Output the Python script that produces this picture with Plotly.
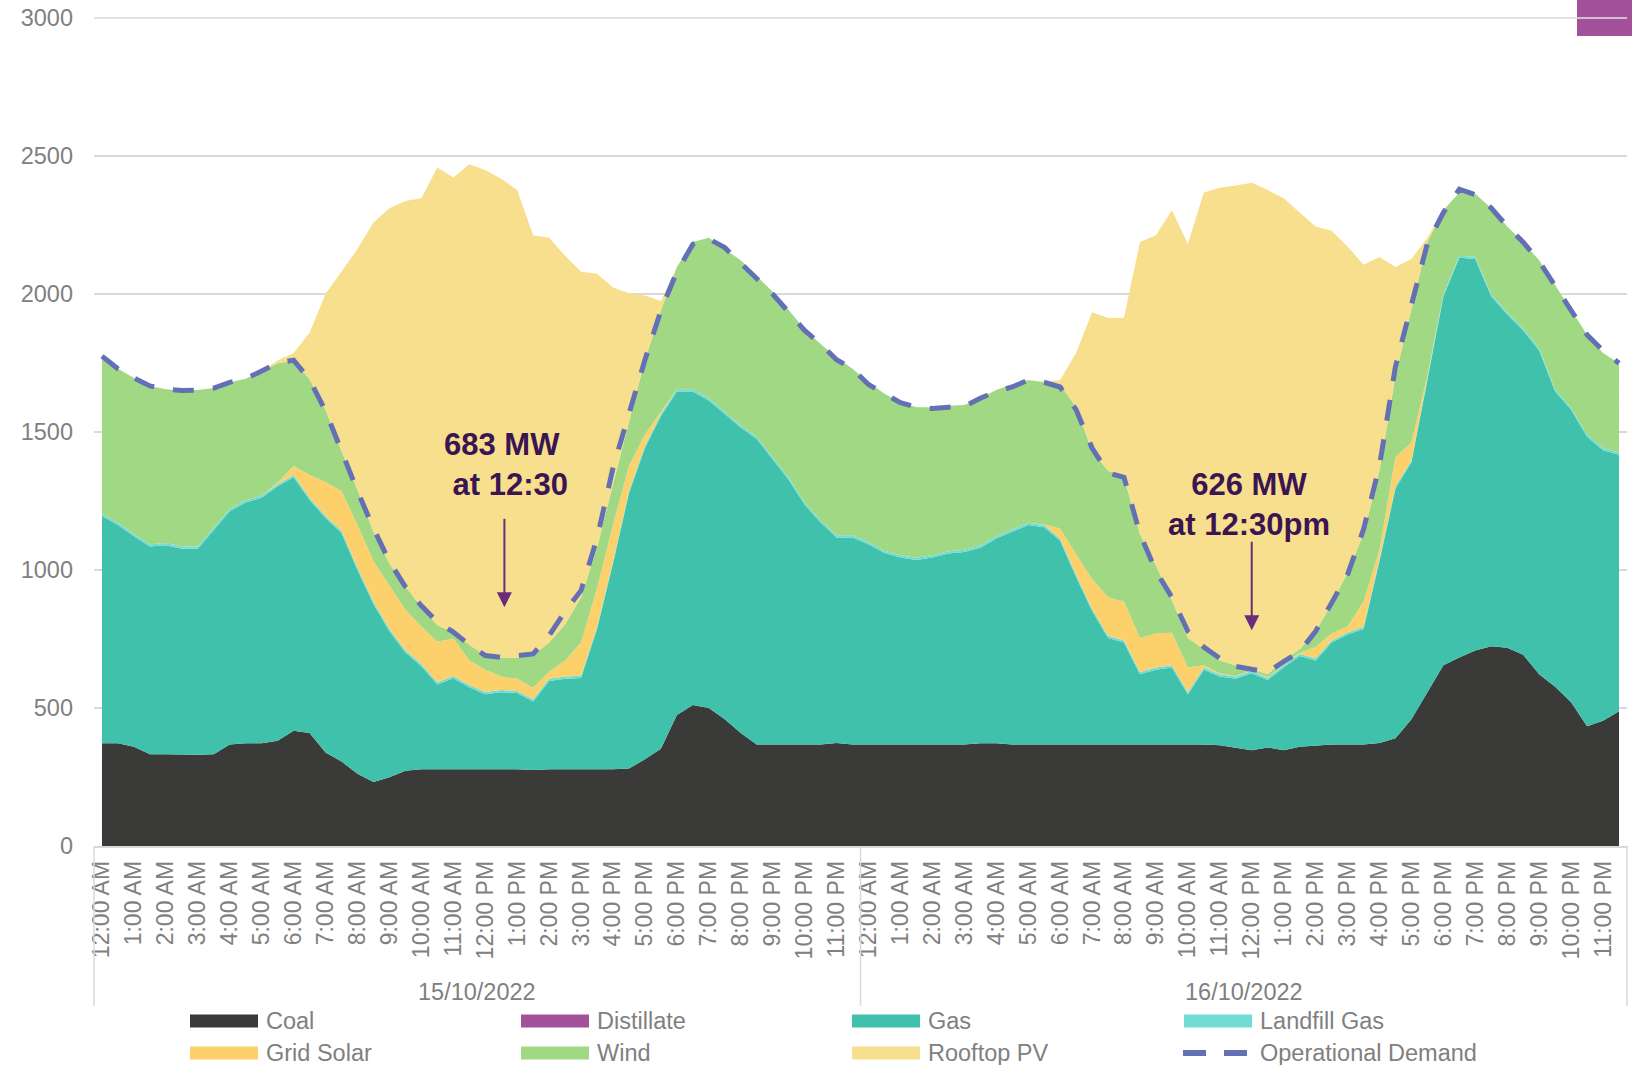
import plotly.graph_objects as go

# ---------------- data (half-hourly, two days) ----------------
hour_labels = ["12:00 AM", "1:00 AM", "2:00 AM", "3:00 AM", "4:00 AM", "5:00 AM",
               "6:00 AM", "7:00 AM", "8:00 AM", "9:00 AM", "10:00 AM", "11:00 AM",
               "12:00 PM", "1:00 PM", "2:00 PM", "3:00 PM", "4:00 PM", "5:00 PM",
               "6:00 PM", "7:00 PM", "8:00 PM", "9:00 PM", "10:00 PM", "11:00 PM"]
dates = ["15/10/2022", "16/10/2022"]

coal = [372, 372, 360, 332, 332, 331, 331, 332, 368, 372, 372, 381, 418, 409, 339, 306, 262, 232, 249, 273, 278, 278, 278, 278,
        278, 278, 278, 275, 278, 278, 278, 278, 278, 281, 314, 352, 475, 511, 500, 459, 409, 368, 368, 368, 368, 368, 373, 368,
        368, 368, 368, 368, 368, 368, 368, 372, 372, 368, 368, 368, 368, 368, 368, 368, 368, 368, 368, 368, 368, 368, 365, 355,
        347, 357, 347, 360, 365, 368, 368, 368, 373, 390, 459, 557, 655, 683, 708, 724, 718, 693, 622, 577, 521, 434, 454, 488]

distillate = [0, 0, 0, 0, 0, 0, 0, 0, 0, 0, 0, 0, 0, 0, 0, 0, 0, 0, 0, 0, 0, 0, 0, 0,
              0, 0, 0, 0, 0, 0, 0, 0, 0, 0, 0, 0, 0, 0, 0, 0, 0, 0, 0, 0, 0, 0, 0, 0,
              0, 0, 0, 0, 0, 0, 0, 0, 0, 0, 0, 0, 0, 0, 0, 0, 0, 0, 0, 0, 0, 0, 0, 0,
              0, 0, 0, 0, 0, 0, 0, 0, 0, 0, 0, 0, 0, 0, 0, 0, 0, 0, 0, 0, 0, 0, 0, 0]

gas = [824, 791, 762, 753, 758, 746, 746, 812, 845, 873, 890, 922, 918, 845, 849, 828, 738, 645, 529, 428, 373, 307, 330, 297,
       272, 279, 276, 249, 320, 328, 331, 508, 746, 997, 1128, 1205, 1172, 1136, 1114, 1106, 1107, 1107, 1033, 959, 869, 804, 745, 750,
       725, 694, 677, 668, 677, 692, 697, 709, 742, 771, 795, 787, 738, 607, 484, 386, 369, 254, 271, 279, 181, 271, 249, 251,
       279, 244, 300, 328, 307, 369, 398, 418, 659, 905, 931, 1131, 1336, 1448, 1419, 1267, 1208, 1175, 1173, 1070, 1060, 1049, 980, 930]

landfill_gas = [8, 8, 8, 8, 8, 8, 8, 8, 8, 8, 8, 8, 8, 8, 8, 8, 8, 8, 8, 8, 8, 8, 8, 8,
                8, 8, 8, 8, 8, 8, 8, 8, 8, 8, 8, 8, 8, 8, 8, 8, 8, 8, 8, 8, 8, 8, 8, 8,
                8, 8, 8, 8, 8, 8, 8, 8, 8, 8, 8, 8, 8, 8, 8, 8, 8, 8, 8, 8, 8, 8, 8, 8,
                8, 8, 8, 8, 8, 8, 8, 8, 8, 8, 8, 8, 8, 8, 8, 8, 8, 8, 8, 8, 8, 8, 8, 8]

grid_solar = [0, 0, 0, 0, 0, 0, 0, 0, 0, 0, 0, 5, 33, 82, 123, 144, 155, 147, 156, 147, 136, 147, 136, 89,
              81, 49, 44, 41, 25, 58, 120, 140, 131, 91, 41, 8, 0, 0, 0, 0, 0, 0, 0, 0, 0, 0, 0, 0,
              0, 0, 0, 0, 0, 0, 0, 0, 0, 0, 0, 2, 36, 74, 107, 139, 140, 124, 123, 118, 90, 8, 3, 2,
              2, 2, 3, 4, 41, 25, 21, 91, 33, 106, 64, 8, 0, 0, 0, 0, 0, 0, 0, 0, 0, 0, 0, 0]

wind = [566, 558, 566, 574, 557, 565, 567, 507, 459, 440, 451, 433, 382, 347, 262, 145, 128, 107, 82, 85, 71, 60, 23, 57,
        51, 69, 76, 118, 106, 131, 164, 147, 148, 164, 270, 367, 443, 533, 582, 590, 598, 582, 599, 607, 627, 639, 644, 603,
        579, 569, 556, 546, 537, 527, 525, 533, 530, 525, 517, 515, 522, 533, 464, 459, 451, 377, 246, 118, 107, 58, 47, 39,
        5, 11, 14, 13, 57, 107, 196, 246, 287, 295, 488, 484, 304, 229, 228, 312, 311, 312, 319, 377, 353, 361, 344, 323]

rooftop_pv = [0, 0, 0, 0, 0, 0, 0, 0, 0, 0, 0, 10, 27, 169, 419, 650, 872, 1120, 1287, 1396, 1481, 1658, 1647, 1741,
              1759, 1735, 1695, 1522, 1467, 1336, 1180, 992, 713, 462, 234, 35, 0, 0, 0, 0, 0, 0, 0, 0, 0, 0, 0, 0,
              0, 0, 0, 0, 0, 0, 0, 0, 0, 0, 0, 3, 16, 196, 503, 553, 578, 1057, 1197, 1412, 1427, 1655, 1713, 1738,
              1762, 1755, 1675, 1582, 1467, 1352, 1181, 975, 774, 394, 177, 16, 0, 0, 0, 0, 0, 0, 0, 0, 0, 0, 0, 0]

operational_demand = [1775, 1729, 1696, 1667, 1655, 1650, 1652, 1659, 1680, 1693, 1721, 1750, 1760, 1690, 1576, 1426, 1286, 1151, 1031, 939, 870, 812, 775, 729,
                      690, 683, 690, 696, 762, 850, 926, 1114, 1370, 1571, 1761, 1940, 2081, 2180, 2200, 2168, 2114, 2057, 2000, 1934, 1868, 1819, 1762, 1729,
                      1672, 1639, 1606, 1590, 1585, 1590, 1593, 1622, 1647, 1663, 1688, 1680, 1663, 1581, 1442, 1352, 1336, 1131, 996, 901, 778, 721, 680, 651,
                      640, 630, 668, 704, 778, 885, 983, 1147, 1377, 1737, 1967, 2183, 2295, 2380, 2360, 2311, 2245, 2188, 2118, 2032, 1942, 1852, 1795, 1749]

series_names = ["Coal", "Distillate", "Gas", "Landfill Gas", "Grid Solar", "Wind", "Rooftop PV"]
series_values = [coal, distillate, gas, landfill_gas, grid_solar, wind, rooftop_pv]
series_colors = ["#3A3B38", "#A3519B", "#40C1AB", "#72DCD4", "#FCD16C", "#A1D884", "#F7DF8D"]
demand_color = "#6370B5"

annotations_text = ["<b>683 MW </b><br><b> at 12:30</b>", "<b>626 MW</b><br><b>at 12:30pm</b>"]

# ---------------- geometry ----------------
W, H = 1632, 1065
ML, MR, MT, MB = 94, 5, 18, 219
PW, PH = W - ML - MR, H - MT - MB
FONT = "Liberation Sans, Arial, sans-serif"
GRAY = "#808080"
GRID = "#d9d9d9"


def px_x(X):
    return (X - ML) / PW


def px_y(Y):
    return (H - MB - Y) / PH


n = len(coal)
x = list(range(n))

fig = go.Figure()
for name, vals, col in zip(series_names, series_values, series_colors):
    fig.add_trace(go.Scatter(
        x=x, y=vals, name=name, mode="lines", stackgroup="one",
        line=dict(width=0, color=col), fillcolor=col, showlegend=False,
        hoverinfo="skip"))

fig.add_trace(go.Scatter(
    x=x, y=operational_demand, name="Operational Demand", mode="lines",
    line=dict(color=demand_color, width=5, dash="21px,19px"),
    showlegend=False, hoverinfo="skip"))

tickvals = []
ticktext = []
for d in range(len(dates)):
    for h, lab in enumerate(hour_labels):
        tickvals.append(d * 48 + h * 2)
        ticktext.append(lab)

shapes = []
annotations = []

# top gridline (3000) drawn explicitly since it sits on the plot edge
shapes.append(dict(type="line", xref="paper", yref="paper", x0=0, x1=1, y0=1, y1=1,
                   line=dict(color=GRID, width=1.5), layer="below"))

# category group separators
for xp in [0.0, 0.5, 1.0]:
    shapes.append(dict(type="line", xref="paper", yref="paper",
                       x0=xp, x1=xp, y0=0, y1=px_y(1006),
                       line=dict(color=GRID, width=1.5)))

# date labels
for i, d in enumerate(dates):
    annotations.append(dict(text=d, xref="paper", yref="paper",
                            x=0.25 + 0.5 * i, y=px_y(992), showarrow=False,
                            xanchor="center", yanchor="middle",
                            font=dict(family=FONT, size=23.5, color=GRAY)))

# manual legend
legend_names = series_names + ["Operational Demand"]
legend_colors = series_colors + [demand_color]
col_x = [190, 521, 852, 1184]
row_y = [1021, 1053]
for k, (nm, cl) in enumerate(zip(legend_names, legend_colors)):
    r, c = divmod(k, 4)
    X0 = col_x[c]
    Yc = row_y[r]
    if nm == "Operational Demand":
        for a, b in [(X0 - 1, X0 + 22), (X0 + 40, X0 + 63)]:
            shapes.append(dict(type="line", xref="paper", yref="paper",
                               x0=px_x(a), x1=px_x(b), y0=px_y(Yc), y1=px_y(Yc),
                               line=dict(color=cl, width=6)))
    else:
        shapes.append(dict(type="rect", xref="paper", yref="paper",
                           x0=px_x(X0), x1=px_x(X0 + 68),
                           y0=px_y(Yc + 6.5), y1=px_y(Yc - 6.5),
                           fillcolor=cl, line=dict(width=0)))
    annotations.append(dict(text=nm, xref="paper", yref="paper",
                            x=px_x(X0 + 74), y=px_y(Yc), showarrow=False,
                            xanchor="left", yanchor="middle",
                            font=dict(family=FONT, size=23.5, color=GRAY)))

# stray purple block at top-right
shapes.append(dict(type="rect", xref="paper", yref="paper",
                   x0=px_x(1577), x1=px_x(1634), y0=px_y(36), y1=px_y(-2),
                   fillcolor="#A3519B", line=dict(width=0), layer="above"))
shapes.append(dict(type="line", xref="paper", yref="paper",
                   x0=px_x(1577), x1=1.0, y0=1.0, y1=1.0,
                   line=dict(color="#e4e4e4", width=1.5), layer="above"))

# callouts
ANN_COLOR = "#3B1552"
ARROW_COLOR = "#6B2D7B"
annotations.append(dict(text=annotations_text[0], xref="x", yref="y",
                        x=25.3, y=1383, showarrow=False, align="center",
                        font=dict(family=FONT, size=31, color=ANN_COLOR)))
annotations.append(dict(text=annotations_text[1], xref="x", yref="y",
                        x=71.8, y=1236, showarrow=False, align="center",
                        font=dict(family=FONT, size=31, color=ANN_COLOR)))
for hx, hy in [(25.2, 865), (72.0, 782)]:
    annotations.append(dict(text="", xref="x", yref="y", x=hx, y=hy,
                            ax=0, ay=-90, showarrow=True, arrowhead=2,
                            arrowsize=1.5, arrowwidth=2, arrowcolor=ARROW_COLOR,
                            standoff=0))

fig.update_layout(
    width=W, height=H,
    margin=dict(l=ML, r=MR, t=MT, b=MB, pad=0),
    paper_bgcolor="white", plot_bgcolor="white",
    font=dict(family=FONT, color=GRAY),
    showlegend=False,
    shapes=shapes, annotations=annotations,
    xaxis=dict(range=[-0.5, n - 0.5], tickmode="array", tickvals=tickvals,
               ticktext=ticktext, tickangle=-90, showgrid=False, zeroline=False,
               showline=True, linecolor=GRID, linewidth=1.5, ticks="",
               ticklabelstandoff=4,
               tickfont=dict(family=FONT, size=23, color=GRAY)),
    yaxis=dict(range=[0, 3000], tickmode="array",
               tickvals=[0, 500, 1000, 1500, 2000, 2500, 3000],
               showgrid=True, gridcolor=GRID, gridwidth=1.5, zeroline=False,
               showline=False, ticks="", ticklabelstandoff=20,
               tickfont=dict(family=FONT, size=23.5, color=GRAY)),
)

fig.write_html("out.html", config={"displayModeBar": False},
               post_script="document.body.style.margin='0';document.body.style.overflow='hidden';")
